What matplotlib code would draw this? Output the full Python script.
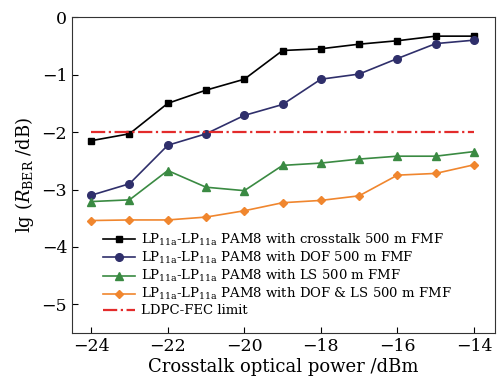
import numpy as np
import matplotlib
matplotlib.use("Agg")
import matplotlib.pyplot as plt

plt.rcParams['font.family'] = 'DejaVu Serif'
plt.rcParams['mathtext.fontset'] = 'dejavuserif'

# crosstalk optical power (dBm)
power = [-24, -23, -22, -21, -20, -19, -18, -17, -16, -15, -14]

# lg(BER) for each case
ber_crosstalk = [-2.15, -2.03, -1.50, -1.27, -1.08, -0.58, -0.55, -0.47, -0.41, -0.33, -0.33]
ber_dof = [-3.10, -2.90, -2.23, -2.03, -1.71, -1.52, -1.08, -0.99, -0.72, -0.46, -0.40]
ber_ls = [-3.21, -3.18, -2.67, -2.96, -3.02, -2.58, -2.54, -2.47, -2.42, -2.42, -2.34]
ber_dof_ls = [-3.54, -3.53, -3.53, -3.48, -3.37, -3.23, -3.19, -3.11, -2.75, -2.72, -2.57]
fec_limit = -2.0

lp = r'LP$_{\mathrm{11a}}$-LP$_{\mathrm{11a}}$'
labels = [lp + ' PAM8 with crosstalk 500 m FMF',
          lp + ' PAM8 with DOF 500 m FMF',
          lp + ' PAM8 with LS 500 m FMF',
          lp + ' PAM8 with DOF & LS 500 m FMF']

fig = plt.figure(figsize=(4.97, 3.82), dpi=100)
ax = fig.add_axes([0.145, 0.128, 0.851, 0.827])

ax.plot(power, ber_crosstalk, '-s', color='black', ms=5, lw=1.2, label=labels[0])
ax.plot(power, ber_dof, '-o', color='#2f2f6b', ms=5.5, lw=1.2, label=labels[1])
ax.plot(power, ber_ls, '-^', color='#3a8a42', ms=6, lw=1.2, label=labels[2])
ax.plot(power, ber_dof_ls, '-D', color='#f0862e', ms=4.5, lw=1.2, label=labels[3])
ax.plot([power[0], power[-1]], [fec_limit, fec_limit], linestyle='-.', color='#e32b2b',
        lw=1.6, label='LDPC-FEC limit')

ax.set_xlim(-24.5, -13.45)
ax.set_ylim(-5.5, 0)
ax.set_xticks([-24, -22, -20, -18, -16, -14])
ax.set_yticks([0, -1, -2, -3, -4, -5])
ax.tick_params(direction='in', labelsize=12.5, length=4, top=False, right=False)
for s in ax.spines.values():
    s.set_color('#333333')

ax.set_xlabel('Crosstalk optical power /dBm', fontsize=13, labelpad=2)
ax.set_ylabel(r'lg ($R_{\mathrm{BER}}$ /dB)', fontsize=13, labelpad=4)

ax.legend(loc='lower left', bbox_to_anchor=(0.055, 0.025), frameon=False, fontsize=9.5,
          handlelength=2.4, handletextpad=0.45, labelspacing=0.15, borderaxespad=0.2)

fig.savefig('out.png', dpi=100)
